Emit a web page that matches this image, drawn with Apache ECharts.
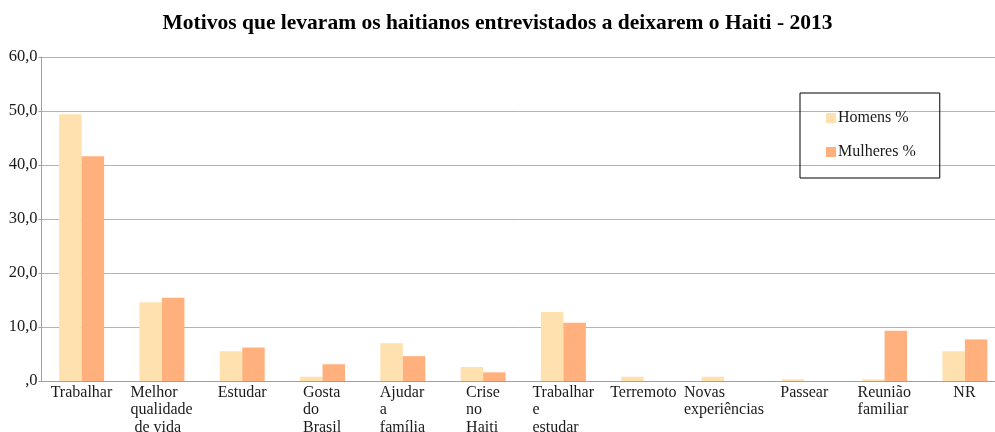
<!DOCTYPE html>
<html>
<head>
<meta charset="utf-8">
<script src="https://cdn.jsdelivr.net/npm/echarts@6/dist/echarts.min.js"></script>
<style>
html,body{margin:0;padding:0;background:#fff;}
#chart{width:995px;height:432px;}
</style>
</head>
<body>
<div id="chart"></div>
<script>
var categories = [
  "Trabalhar",
  "Melhor\nqualidade\n de vida",
  "Estudar",
  "Gosta\ndo\nBrasil",
  "Ajudar\na\nfamília",
  "Crise\nno\nHaiti",
  "Trabalhar\ne\nestudar",
  "Terremoto",
  "Novas\nexperiências",
  "Passear",
  "Reunião\nfamiliar",
  "NR"
];
var homens = [49.4, 14.6, 5.5, 0.8, 7.0, 2.6, 12.8, 0.8, 0.8, 0.3, 0.3, 5.5];
var mulheres = [41.6, 15.4, 6.2, 3.1, 4.6, 1.6, 10.8, 0, 0, 0, 9.3, 7.7];
var seriesNames = ["Homens %", "Mulheres %"];
var titleText = "Motivos que levaram os haitianos entrevistados a deixarem o Haiti - 2013";

var FONT = "'Liberation Serif', 'Times New Roman', serif";
var LABEL_SIZE = 16;

// measure label widths to left-align lines inside a centered block
var cv = document.createElement('canvas').getContext('2d');
cv.font = LABEL_SIZE + "px " + FONT;
var rich = {};
categories.forEach(function (c, i) {
  var w = 0;
  c.split('\n').forEach(function (l) { w = Math.max(w, cv.measureText(l).width); });
  rich['r' + i] = {
    width: Math.ceil(w), align: 'left',
    fontFamily: FONT, fontSize: LABEL_SIZE, color: '#1a1a1a', lineHeight: 17.5
  };
});

var chart = echarts.init(document.getElementById('chart'), null, {renderer: 'canvas'});
chart.setOption({
  animation: false,
  backgroundColor: '#ffffff',
  title: {
    text: titleText,
    left: 'center',
    top: 7,
    textStyle: {fontFamily: FONT, fontWeight: 'bold', fontSize: 21.5, color: '#000'}
  },
  legend: {
    data: seriesNames,
    orient: 'vertical',
    left: 800,
    top: 93,
    padding: [17, 24, 18, 26],
    itemGap: 18,
    itemWidth: 10,
    itemHeight: 10,
    icon: 'rect',
    borderColor: '#000',
    borderWidth: 1,
    textStyle: {fontFamily: FONT, fontSize: 16, color: '#1a1a1a', padding: [0, 0, 0, -3]}
  },
  grid: {left: 41.5, right: -10, top: 57, bottom: 51, containLabel: false, outerBoundsMode: 'none'},
  xAxis: {
    type: 'category',
    data: categories,
    axisTick: {show: false},
    axisLine: {lineStyle: {color: '#a0a0a0', width: 1}},
    axisLabel: {
      interval: 0,
      margin: 3,
      verticalAlign: 'top',
      formatter: function (v, i) {
        return v.split('\n').map(function (l) { return '{r' + i + '|' + l + '}'; }).join('\n');
      },
      rich: rich
    }
  },
  yAxis: {
    type: 'value',
    min: 0, max: 60, interval: 10,
    axisLine: {show: true, lineStyle: {color: '#a0a0a0', width: 1}},
    axisTick: {show: true, length: 3, lineStyle: {color: '#a0a0a0'}},
    splitLine: {lineStyle: {color: '#b3b3b3', width: 1}},
    axisLabel: {
      fontFamily: FONT, fontSize: 16.5, color: '#1a1a1a', margin: 4,
      formatter: function (v) { return v === 0 ? ',0' : v.toFixed(1).replace('.', ','); }
    }
  },
  series: [
    {name: seriesNames[0], type: 'bar', data: homens, barGap: '0%', barCategoryGap: '44%',
     itemStyle: {color: '#FFE0AF'}},
    {name: seriesNames[1], type: 'bar', data: mulheres, barGap: '0%', barCategoryGap: '44%',
     itemStyle: {color: '#FFB07C'}}
  ]
});
</script>
</body>
</html>
